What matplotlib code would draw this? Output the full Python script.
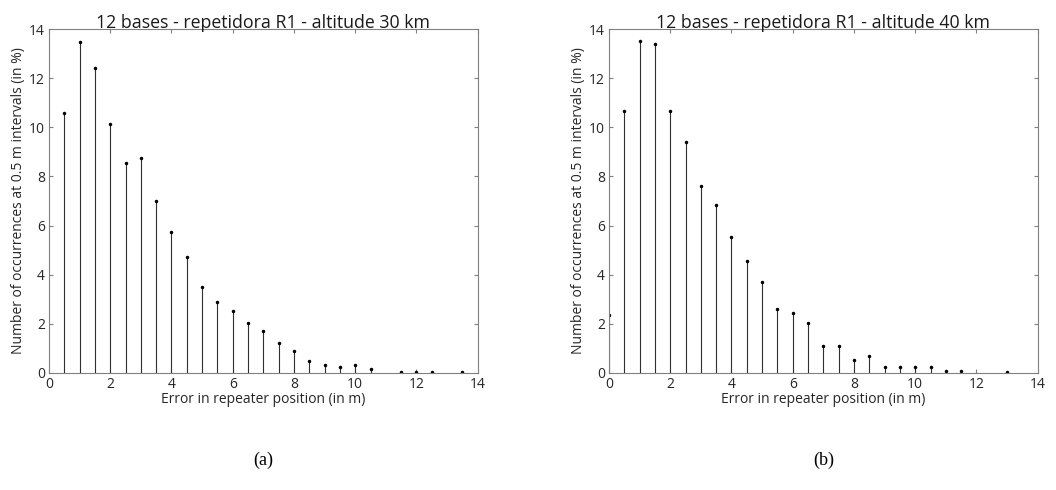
import numpy as np
import matplotlib.pyplot as plt

plt.rcParams['font.family'] = ['Open Sans', 'DejaVu Sans']

# altitude 30 km
x30 = [0.5, 1, 1.5, 2, 2.5, 3, 3.5, 4, 4.5, 5, 5.5, 6, 6.5, 7, 7.5, 8, 8.5,
       9, 9.5, 10, 10.5, 11.5, 12, 12.5, 13.5]
y30 = [10.6, 13.48, 12.42, 10.13, 8.55, 8.74, 7.0, 5.75, 4.72, 3.52, 2.88,
       2.54, 2.04, 1.70, 1.24, 0.88, 0.49, 0.34, 0.24, 0.31, 0.15, 0.02,
       0.05, 0.02, 0.02]

# altitude 40 km
x40 = [0, 0.5, 1, 1.5, 2, 2.5, 3, 3.5, 4, 4.5, 5, 5.5, 6, 6.5, 7, 7.5, 8,
       8.5, 9, 9.5, 10, 10.5, 11, 11.5, 13]
y40 = [2.34, 10.66, 13.51, 13.39, 10.67, 9.42, 7.6, 6.82, 5.52, 4.57, 3.71,
       2.61, 2.45, 2.03, 1.11, 1.11, 0.52, 0.68, 0.24, 0.24, 0.24, 0.24,
       0.07, 0.07, 0.04]

titles = ['12 bases - repetidora R1 - altitude 30 km',
          '12 bases - repetidora R1 - altitude 40 km']
panel_labels = ['(a)', '(b)']

fig = plt.figure(figsize=(10.56, 4.9), dpi=100)
lefts = [0.0464, 0.5767]
grey = '#808080'

for left, xs, ys, title, lab in zip(lefts, [x30, x40], [y30, y40], titles, panel_labels):
    ax = fig.add_axes([left, 0.2388, 0.406, 0.702])
    ml, sl, bl = ax.stem(xs, ys, basefmt=' ')
    plt.setp(sl, color='#303030', linewidth=0.8)
    plt.setp(ml, color='black', marker='o', markersize=1.5)
    ax.set_xlim(0, 14)
    ax.set_ylim(0, 14)
    ax.set_xticks(np.arange(0, 15, 2))
    ax.set_yticks(np.arange(0, 15, 2))
    ax.tick_params(direction='in', top=True, right=True, length=3,
                   color=grey, labelsize=10, labelcolor='#262626', pad=3)
    for s in ax.spines.values():
        s.set_color(grey)
        s.set_linewidth(0.8)
    ax.set_title(title, fontsize=12.8, pad=1, color='#1a1a1a')
    ax.set_xlabel('Error in repeater position (in m)', fontsize=10,
                  labelpad=0, color='#262626')
    ax.set_ylabel('Number of occurrences at 0.5 m intervals (in %)',
                  fontsize=10, labelpad=2, color='#262626')
    fig.text(left + 0.203, 0.06, lab, ha='center', va='center',
             fontsize=13, family='Liberation Serif')

fig.savefig('out.png', dpi=100, facecolor='white')
